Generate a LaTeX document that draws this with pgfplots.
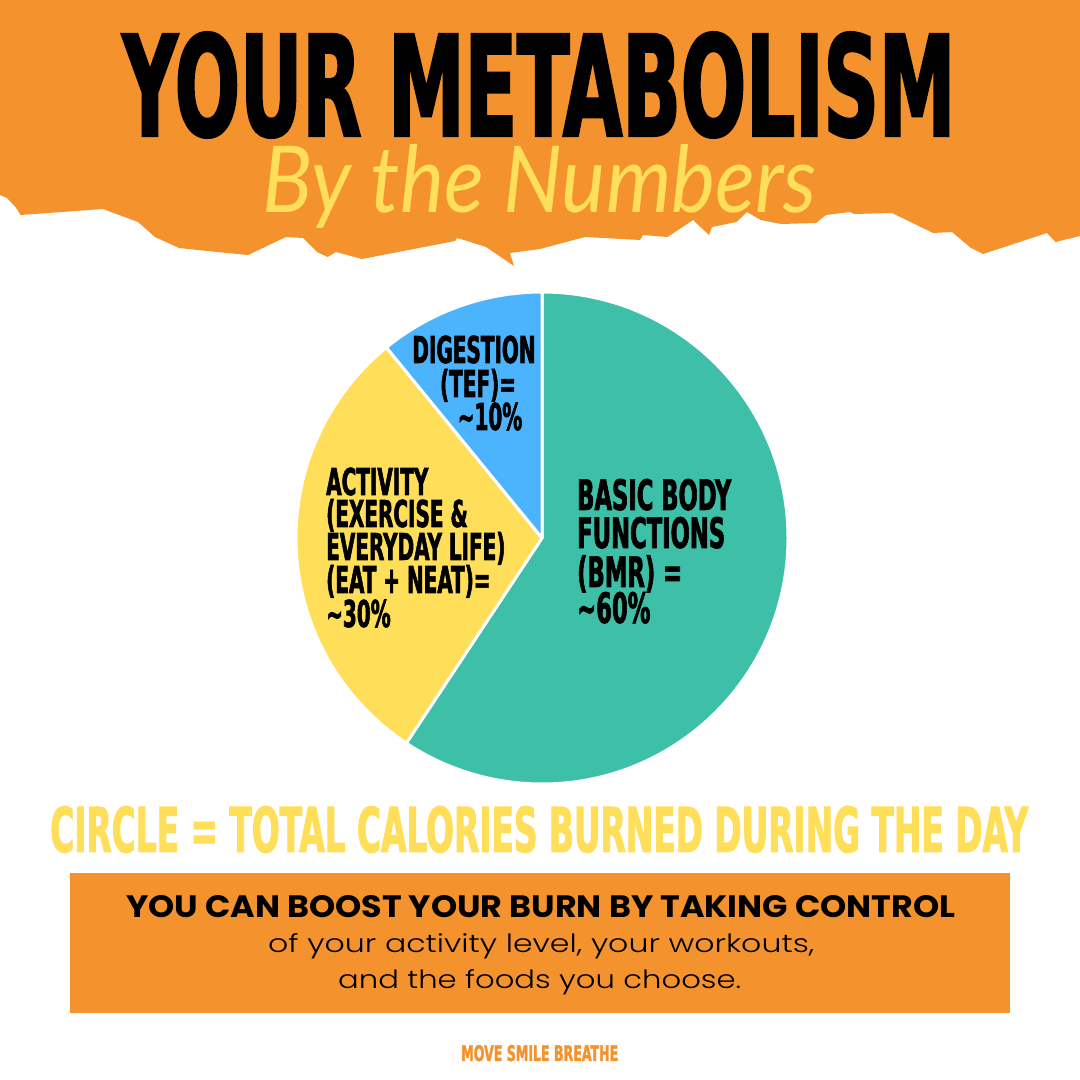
\documentclass[border=0pt]{standalone}
\usepackage{pgfplots}
\pgfplotsset{compat=1.18}
\usepackage{pgfplotstable}
\usepackage{graphicx}
\usepackage{fontspec}
\setmainfont{DejaVu Sans}
\newfontfamily\cond[FakeStretch=0.6,FakeBold=1.5]{DejaVu Sans Condensed Bold}
\newfontfamily\pop{Poppins}
\newfontfamily\popl{Poppins Light}
\newfontfamily\lato{Lato}
\definecolor{mbOrange}{HTML}{F4922D}
\definecolor{mbYellow}{HTML}{FFDE59}
\definecolor{mbTeal}{HTML}{3EBFA8}
\definecolor{mbBlue}{HTML}{4CB4FD}
\pgfplotstableread{
part value
BMR 59.3
Activity 29.8
Digestion 10.9
}\pietable
\newcommand\lab[4]{\node[anchor=#4, inner sep=0pt] at (#1,#2) {\fontsize{#3}{#3}\selectfont\cond #4};}
\begin{document}
\begin{tikzpicture}
\useasboundingbox (0,0) rectangle (1080pt,1080pt);
\fill[white] (0,0) rectangle (1080pt,1080pt);
\begin{scope}[x=1pt,y=-1pt,yshift=1080pt]
\fill[mbOrange] (0,0) -- (0,195) -- (7,198) -- (15.5,207) -- (20.7,215) -- (103,209) -- (138,222)
 -- (155,237) -- (179,248) -- (217,252) -- (248,255) -- (286,237) -- (303,238) -- (317,252)
 -- (327.6,257) -- (336,252) -- (362,259) -- (455,241) -- (457,238) -- (464,240) -- (486,247)
 -- (514,266) -- (510,253) -- (540,249) -- (585,237) -- (640,240) -- (643,235) -- (667.6,237)
 -- (693,220) -- (709,235) -- (712,227) -- (736.6,222) -- (747,212) -- (760.7,220) -- (781,224)
 -- (816,223) -- (826,215) -- (850,212) -- (854,214) -- (892,213) -- (933,233) -- (952,232)
 -- (971,248) -- (983,254) -- (1047,233) -- (1055.5,242) -- (1080,236) -- (1080,0) -- cycle;
\node[anchor=base west, inner sep=0pt] at (122,136) {\resizebox{833pt}{104pt}{\cond YOUR METABOLISM}};
\node[anchor=base west, inner sep=0pt, text=mbYellow] at (262,213) {\resizebox{554pt}{68pt}{\lato\itshape By the Numbers}};
\end{scope}
\pgfplotstablegetelem{0}{value}\of\pietable \let\vA\pgfplotsretval
\pgfplotstablegetelem{1}{value}\of\pietable \let\vB\pgfplotsretval
\pgfplotstablegetelem{2}{value}\of\pietable \let\vC\pgfplotsretval
\pgfmathsetmacro\aA{90-3.6*\vA}
\pgfmathsetmacro\aB{\aA-3.6*\vB}
\pgfmathsetmacro\aC{\aB-3.6*\vC}
\begin{axis}[at={(542pt,542pt)}, anchor=center, width=492pt, height=492pt, scale only axis,
  hide axis, xmin=-1, xmax=1, ymin=-1, ymax=1, clip=false]
\filldraw[fill=mbTeal, draw=white, line width=3pt, line join=round] (axis cs:0,0) -- (axis cs:0,1) arc[start angle=90, end angle=\aA, radius=246pt] -- cycle;
\filldraw[fill=mbYellow, draw=white, line width=3pt, line join=round] (axis cs:0,0) -- (axis cs:{cos(\aA)},{sin(\aA)}) arc[start angle=\aA, end angle=\aB, radius=246pt] -- cycle;
\filldraw[fill=mbBlue, draw=white, line width=3pt, line join=round] (axis cs:0,0) -- (axis cs:{cos(\aB)},{sin(\aB)}) arc[start angle=\aB, end angle=\aC, radius=246pt] -- cycle;
\end{axis}
\begin{scope}[x=1pt,y=-1pt,yshift=1080pt]
% BMR label
\node[anchor=base west, inner sep=0pt] at (577,510) {\fontsize{42}{42}\selectfont\cond BASIC BODY};
\node[anchor=base west, inner sep=0pt] at (577,548) {\fontsize{42}{42}\selectfont\cond FUNCTIONS};
\node[anchor=base west, inner sep=0pt] at (577,587) {\fontsize{42}{42}\selectfont\cond (BMR) =};
\node[anchor=base west, inner sep=0pt] at (577,623) {\fontsize{42}{42}\selectfont\cond \textasciitilde 60\%};
% Activity label
\node[anchor=base west, inner sep=0pt] at (326,495) {\fontsize{37}{37}\selectfont\cond ACTIVITY};
\node[anchor=base west, inner sep=0pt] at (326,527) {\fontsize{37}{37}\selectfont\cond (EXERCISE \&};
\node[anchor=base west, inner sep=0pt] at (326,560) {\fontsize{37}{37}\selectfont\cond EVERYDAY LIFE)};
\node[anchor=base west, inner sep=0pt] at (326,593) {\fontsize{37}{37}\selectfont\cond (EAT + NEAT)=};
\node[anchor=base west, inner sep=0pt] at (326,627) {\fontsize{37}{37}\selectfont\cond \textasciitilde 30\%};
% Digestion label
\node[anchor=base, inner sep=0pt] at (474,363) {\fontsize{37}{37}\selectfont\cond DIGESTION};
\node[anchor=base, inner sep=0pt] at (478,397) {\fontsize{37}{37}\selectfont\cond (TEF)=};
\node[anchor=base, inner sep=0pt] at (490,430) {\fontsize{37}{37}\selectfont\cond \textasciitilde 10\%};
\node[anchor=base west, inner sep=0pt, text=mbYellow] at (50,852) {\resizebox{978pt}{46pt}{\cond CIRCLE = TOTAL CALORIES BURNED DURING THE DAY}};
\fill[mbOrange] (70,873) rectangle (1010,1013);
\node[anchor=base west, inner sep=0pt] at (126,918) {\resizebox{829pt}{22pt}{\pop\bfseries YOU CAN BOOST YOUR BURN BY TAKING CONTROL}};
\node[anchor=base west, inner sep=0pt] at (268,953) {\resizebox{546pt}{19pt}{\popl of your activity level, your workouts,}};
\node[anchor=base west, inner sep=0pt] at (338,989) {\resizebox{403pt}{19pt}{\popl and the foods you choose.}};
\node[anchor=base west, inner sep=0pt, text=mbOrange] at (461,1061) {\resizebox{157pt}{16pt}{\cond MOVE SMILE BREATHE}};
\end{scope}
\end{tikzpicture}
\end{document}
